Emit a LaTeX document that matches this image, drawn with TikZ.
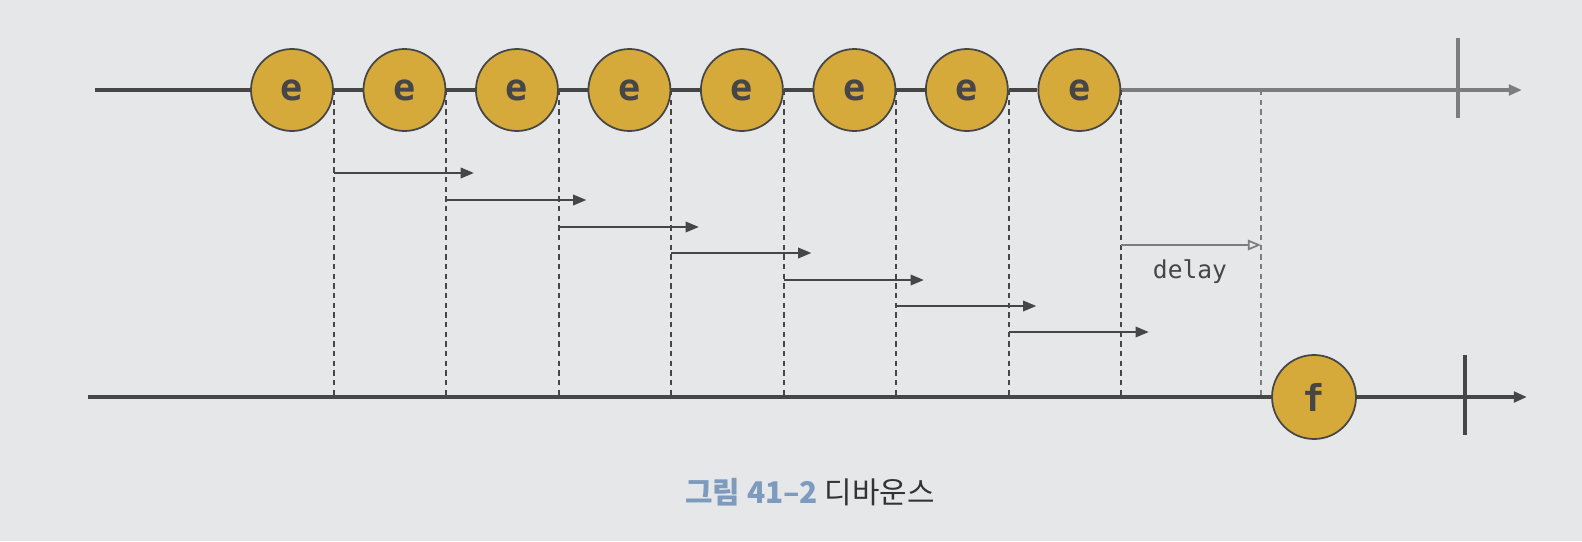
\documentclass[tikz,border=0pt]{standalone}
\usepackage{fontspec}
\setmonofont{DejaVu Sans Mono}
\newfontfamily\krfont{Noto Sans CJK KR}
\usetikzlibrary{arrows.meta,positioning}

\definecolor{paper}{RGB}{229,231,232}
\definecolor{gold}{RGB}{214,169,59}
\definecolor{ink}{RGB}{70,70,70}
\definecolor{faded}{RGB}{125,125,125}
\definecolor{capblue}{RGB}{126,154,190}

\begin{document}
\begin{tikzpicture}[x=0.02cm,y=-0.02cm,>={Triangle[length=7.5pt,width=6pt]},node distance=2.25cm,
    event/.style={circle,draw=ink,line width=1pt,fill=gold,minimum size=1.64cm,inner sep=0pt,
        font=\ttfamily\bfseries\fontsize{21}{24}\selectfont,text=ink},
    axis/.style={draw=ink,line width=2pt},
    guide/.style={draw=ink,line width=1pt,dash pattern=on 3pt off 2.5pt},
    wait/.style={->,draw=ink,line width=1pt},
    tick/.style={draw=ink,line width=2.5pt}]
    \fill[paper] (0,0) rectangle (1582,541);

    % time lines
    \coordinate (tstart) at (95,90);
    \coordinate (tend) at (1522,90);
    \coordinate (bstart) at (88,397);
    \coordinate (bend) at (1527,397);
    \coordinate (fire) at (1261,90);

    % events
    \node[event] (e1) at (292,90) {e};
    \node[event] (e2) [right of=e1] {e};
    \node[event] (e3) [right of=e2] {e};
    \node[event] (e4) [right of=e3] {e};
    \node[event] (e5) [right of=e4] {e};
    \node[event] (e6) [right of=e5] {e};
    \node[event] (e7) [right of=e6] {e};
    \node[event] (e8) [right of=e7] {e};
    \node[event,minimum size=1.68cm] (f) at (1314,397) {f};

    \draw[axis] (tstart) -- (e1);
    \draw[axis] (e1) -- (e2);
    \draw[axis] (e2) -- (e3);
    \draw[axis] (e3) -- (e4);
    \draw[axis] (e4) -- (e5);
    \draw[axis] (e5) -- (e6);
    \draw[axis] (e6) -- (e7);
    \draw[axis] (e7) -- (e8);
    \draw[axis,draw=faded,->] (e8) -- (tend);
    \draw[axis] (bstart) -- (f);
    \draw[axis,->] (f) -- (bend);
    \draw[tick,draw=faded] (1458,38) -- (1458,118);
    \draw[tick] (1465,355) -- (1465,435);

    % guides
    \draw[guide] (e1.east) -- (e1.east |- bstart);
    \draw[guide] (e2.east) -- (e2.east |- bstart);
    \draw[guide] (e3.east) -- (e3.east |- bstart);
    \draw[guide] (e4.east) -- (e4.east |- bstart);
    \draw[guide] (e5.east) -- (e5.east |- bstart);
    \draw[guide] (e6.east) -- (e6.east |- bstart);
    \draw[guide] (e7.east) -- (e7.east |- bstart);
    \draw[guide] (e8.east) -- (e8.east |- bstart);
    \draw[guide,draw=faded] (fire) -- (fire |- bstart);

    % timers
    \draw[wait] (e1.east |- 0,173) -- +(140,0);
    \draw[wait] (e2.east |- 0,200) -- +(140,0);
    \draw[wait] (e3.east |- 0,227) -- +(140,0);
    \draw[wait] (e4.east |- 0,253) -- +(140,0);
    \draw[wait] (e5.east |- 0,280) -- +(140,0);
    \draw[wait] (e6.east |- 0,306) -- +(140,0);
    \draw[wait] (e7.east |- 0,332) -- +(140,0);
    \draw[wait,draw=faded,-{Triangle[open,length=7.5pt,width=6pt]}] (e8.east |- 0,245) -- (fire |- 0,245);
    \node[text=ink,font=\ttfamily\fontsize{14}{16}\selectfont] (delay) at (1190,272) {delay};

    \node[font=\krfont\fontsize{17}{20}\selectfont,text=black!80] (caption) at (810,492)
        {{\bfseries\color{capblue}그림 41–2}\ 디바운스};
\end{tikzpicture}
\end{document}
